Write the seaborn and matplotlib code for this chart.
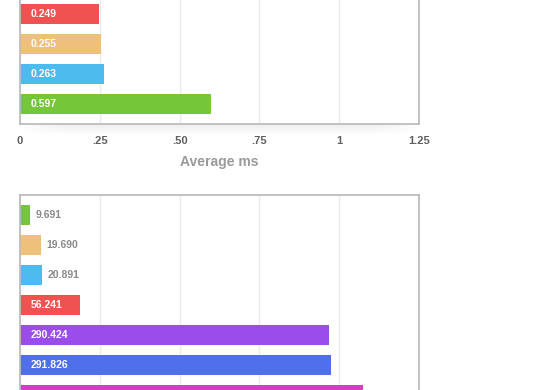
import matplotlib.pyplot as plt
import numpy as np
import seaborn as sns

# values
top_cats = ['a', 'b', 'c', 'd']
top_labels = ['0.249', '0.255', '0.263', '0.597']
top_values = [0.249, 0.255, 0.263, 0.597]
top_colors = ['#F05252', '#EEC07C', '#4DBBEE', '#76C63A']
top_ticks = [0, 0.25, 0.5, 0.75, 1, 1.25]
top_ticklabels = ['0', '.25', '.50', '.75', '1', '1.25']

bottom_cats = ['a', 'b', 'c', 'd', 'e', 'f', 'g']
bottom_labels = ['9.691', '19.690', '20.891', '56.241', '290.424', '291.826', '']
bottom_values = [9.691, 19.690, 20.891, 56.241, 290.424, 291.826, 322.5]
bottom_colors = ['#76C63A', '#EEC07C', '#4DBBEE', '#F05252', '#9B4DEB', '#5070EB', '#D040C0']
bottom_ticks = [0, 75, 150, 225, 300, 375]

sns.set_style('white')
plt.rcParams['font.family'] = ['Liberation Sans', 'DejaVu Sans']

fig = plt.figure(figsize=(5.6, 3.9), dpi=100)
W, H = 560, 390


def px_axes(left, top, right, bottom, **kw):
    return fig.add_axes([left / W, 1 - bottom / H, (right - left) / W, (bottom - top) / H], **kw)


def draw_panel(ax, cats, labels, values, colors, xmax):
    sns.barplot(x=values, y=cats, hue=cats, palette=colors, orient='h',
                width=0.667, saturation=1, linewidth=0, legend=False, ax=ax, zorder=3)
    ax.set_xlim(0, xmax)
    ax.set_ylabel('')
    ax.set_yticks([])
    ax.grid(axis='x', color='#ebebeb', lw=1, zorder=0)
    ax.grid(axis='y', visible=False)
    for s in ax.spines.values():
        s.set_color('#bdbdbd')
        s.set_linewidth(1.3)
        s.set_zorder(5)
    for i, (lab, v) in enumerate(zip(labels, values)):
        if not lab:
            continue
        if v / xmax >= 0.1:
            ax.annotate(lab, xy=(0, i), xytext=(7.5, 0), textcoords='offset points',
                        va='center', ha='left', color='white', fontsize=7.5,
                        fontweight='bold', zorder=4)
        else:
            ax.annotate(lab, xy=(v, i), xytext=(3.6, 0), textcoords='offset points',
                        va='center', ha='left', color='#8a8a8a', fontsize=7.5,
                        fontweight='bold', zorder=4)


# soft shadow under the top panel
sh = px_axes(14, 124, 425, 136, zorder=0)
grad = np.linspace(0.93, 1.0, 12)[:, None] * np.ones((1, 200))
edge = np.minimum(1, np.minimum(np.linspace(0, 1, 200), np.linspace(1, 0, 200)) * 8)
grad = 1 - (1 - grad) * edge[None, :]
sh.imshow(grad, cmap='gray', vmin=0, vmax=1, aspect='auto')
sh.axis('off')

# top panel (top edge runs off the figure)
ax1 = px_axes(20, -6, 419, 124)
draw_panel(ax1, top_cats, top_labels, top_values, top_colors, 1.25)
ax1.set_ylim(3 + 0.667, -0.667)
ax1.set_xticks(top_ticks)
ax1.set_xticklabels(top_ticklabels, fontsize=8, fontweight='bold', color='#5f5f5f')
ax1.tick_params(axis='x', length=0, pad=9)
ax1.set_xlabel('Average ms', fontsize=10, fontweight='bold', color='#9a9a9a', labelpad=6)

# bottom panel (bottom edge runs off the figure)
ax2 = px_axes(20, 195, 419, 420)
draw_panel(ax2, bottom_cats, bottom_labels, bottom_values, bottom_colors, 375)
ax2.set_ylim(6 + 0.833, -0.667)
ax2.set_xticks(bottom_ticks)
ax2.set_xticklabels([])
ax2.tick_params(axis='x', length=0)
ax2.set_xlabel('')

plt.savefig('out.png', dpi=100)
